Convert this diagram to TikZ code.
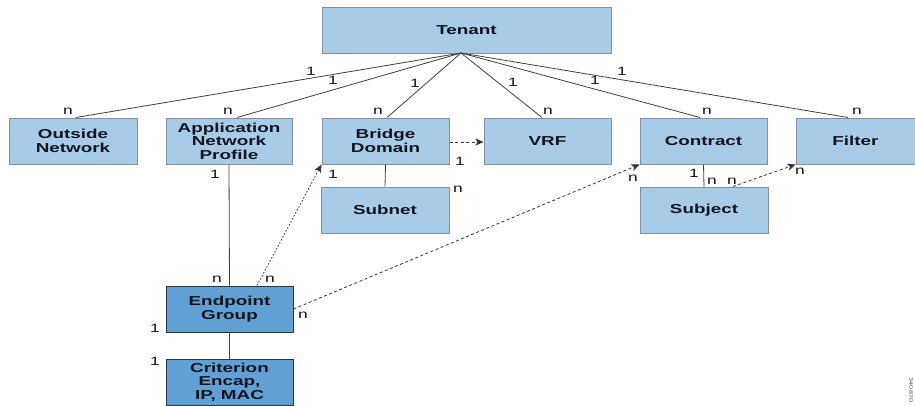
\documentclass[tikz,border=0pt]{standalone}
\usepackage{fontspec}
\usetikzlibrary{arrows.meta}
\newfontfamily\hv[FakeStretch=1.45]{Liberation Sans}
\definecolor{boxlight}{RGB}{168,204,232}
\definecolor{boxdark}{RGB}{96,160,212}
\definecolor{edgelight}{RGB}{128,144,160}
\definecolor{edgedark}{RGB}{40,56,76}
\definecolor{inkc}{RGB}{20,20,30}
\begin{document}
\begin{tikzpicture}[x=1pt,y=-1pt,
  objbox/.style={draw=edgelight,fill=boxlight,line width=1pt,minimum height=46pt,
    inner sep=2pt,align=center,text=inkc,font=\hv\bfseries\fontsize{13}{13.5}\selectfont},
  darkbox/.style={objbox,draw=edgedark,fill=boxdark},
  card/.style={inner sep=0pt,text=inkc,font=\hv\fontsize{12}{12}\selectfont},
  rel/.style={draw=black!75,line width=0.8pt},
  ref/.style={draw=black!80,line width=0.8pt,dash pattern=on 3pt off 2.5pt,
    -{Stealth[length=8pt,width=7pt,inset=2pt]}},
  refdot/.style={ref,dash pattern=on 1.6pt off 1.8pt}]
\useasboundingbox (0,0) rectangle (915,405);
\clip (0,0) rectangle (915,405);
\fill[white] (0,0) rectangle (915,405);

% object boxes
\node[objbox,minimum width=289pt] (tenant) at (466.5,30) {Tenant};
\node[objbox,minimum width=128pt] (outside) at (73,141) {Outside\\Network};
\node[objbox,minimum width=126pt] (anp) at (229,141) {Application\\Network\\Profile};
\node[objbox,minimum width=127pt] (bd) at (385.5,141) {Bridge\\Domain};
\node[objbox,minimum width=127pt] (vrf) at (547.5,141) {VRF};
\node[objbox,minimum width=127pt] (contract) at (703.5,141) {Contract};
\node[objbox,minimum width=127pt] (filter) at (859.5,141) {\hspace*{-8pt}Filter};
\node[objbox,minimum width=128pt] (subnet) at (385,210) {Subnet};
\node[objbox,minimum width=128pt] (subject) at (704,210) {Subject};
\node[darkbox,minimum width=127pt] (epg) at (229.5,309) {Endpoint\\Group};
\node[darkbox,minimum width=127pt] (crit) at (229.5,382) {Criterion\\Encap,\\IP, MAC};

% containment from the tenant
\coordinate (hub) at (461,53);
\draw[rel] (hub) -- ([xshift=3pt]outside.north);
\draw[rel] (hub) -- ([xshift=8pt]anp.north);
\draw[rel] (hub) -- ([xshift=1.5pt]bd.north);
\draw[rel] (hub) -- ([xshift=-5.5pt]vrf.north);
\draw[rel] (hub) -- ([xshift=-3.5pt]contract.north);
\draw[rel] (hub) -- ([xshift=-11.5pt]filter.north);

% other containment
\draw[rel] (anp.south) -- (epg.north);
\draw[rel] (bd.south) -- (subnet.north);
\draw[rel] (contract.south) -- (subject.north);
\draw[rel] (epg.south) -- (crit.north);

% references
\draw[ref] ([yshift=-1pt]bd.east) -- ([yshift=-1pt]vrf.west);
\draw[refdot] ([xshift=27.5pt]epg.north) -- (bd.south west);
\draw[ref] (epg.east) -- (contract.south west);
\draw[ref] ([xshift=29pt]subject.north) -- (filter.south west);

% cardinalities
\node[card] (c1) at (311,71) {1};
\node[card] (c2) at (333,80) {1};
\node[card] (c3) at (415,83) {1};
\node[card] (c4) at (513,82) {1};
\node[card] (c5) at (595,80) {1};
\node[card] (c6) at (622,71) {1};
\node[card] (n1) at (68,111) {n};
\node[card] (n2) at (228,111) {n};
\node[card] (n3) at (378,111) {n};
\node[card] (n4) at (548,111) {n};
\node[card] (n5) at (707,111) {n};
\node[card] (n6) at (857,111) {n};
\node[card] (c7) at (460,161) {1};
\node[card] (c8) at (215,174) {1};
\node[card] (n7) at (217,279) {n};
\node[card] (n8) at (270,279) {n};
\node[card] (c9) at (333,174) {1};
\node[card] (n9) at (458,189) {n};
\node[card] (n10) at (303,315) {n};
\node[card] (n11) at (633,178) {n};
\node[card] (c10) at (694,173) {1};
\node[card] (n12) at (712,181) {n};
\node[card] (n13) at (732,181) {n};
\node[card] (n14) at (800,171) {n};
\node[card] (c11) at (155,328) {1};
\node[card] (c12) at (155,361) {1};

% figure number
\node[inner sep=0pt,rotate=-90,text=black!70,font=\hv\fontsize{5}{5}\selectfont] (fignum) at (911,390) {340870};
\end{tikzpicture}
\end{document}
